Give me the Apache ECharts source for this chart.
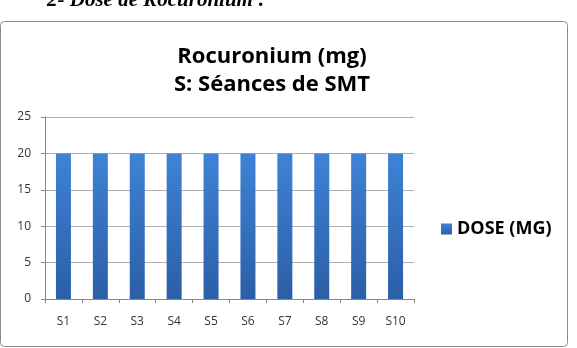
<!DOCTYPE html>
<html><head><meta charset="utf-8">
<script src="https://cdn.jsdelivr.net/npm/echarts@6/dist/echarts.min.js"></script>
<style>html,body{margin:0;padding:0;background:#fff}#c{width:577px;height:348px}</style>
</head><body><div id="c"></div>
<script>
const categories = ['S1','S2','S3','S4','S5','S6','S7','S8','S9','S10'];
const doseValues = [20,20,20,20,20,20,20,20,20,20];
const seriesName = 'DOSE (MG)';
const titleLines = ['Rocuronium (mg)', 'S: Séances de SMT'];
const heading = '2- Dose de Rocuronium :';

const chart = echarts.init(document.getElementById('c'), null, {renderer:'canvas'});
chart.setOption({
  animation:false,
  backgroundColor:'#fff',
  graphic:[
    {type:'text', left:47, top:-10, style:{text:heading, font:'italic bold 21px "Liberation Serif"', fill:'#000'}},
    {type:'rect', shape:{x:0.5, y:21.5, width:567, height:325, r:4}, style:{fill:'none', stroke:'#8c8c8c', lineWidth:1}}
  ],
  title:{
    text: titleLines.join('\n'),
    left: 267, top: 38, textAlign:'center',
    textStyle:{fontFamily:'Open Sans', fontWeight:'bold', fontSize:22, color:'#000', lineHeight:28}
  },
  legend:{
    data:[seriesName], left:436, top:215, itemWidth:11, itemHeight:11, itemGap:5,
    icon:'rect',
    textStyle:{fontFamily:'Open Sans', fontWeight:'bold', fontSize:18, color:'#000'}
  },
  grid:{left:45, right:163, top:117, bottom:49, containLabel:false},
  xAxis:{
    type:'category', data:categories,
    axisLine:{lineStyle:{color:'#888'}},
    axisTick:{show:true, alignWithLabel:false, length:4, lineStyle:{color:'#888'}},
    axisLabel:{fontFamily:'Open Sans', fontSize:12, color:'#333', margin:17}
  },
  yAxis:{
    type:'value', min:0, max:25, interval:5,
    axisLine:{show:true, lineStyle:{color:'#888'}},
    axisTick:{show:true, length:4, lineStyle:{color:'#888'}},
    splitLine:{lineStyle:{color:'#b0b0b0'}},
    axisLabel:{fontFamily:'Open Sans', fontSize:12, color:'#333', margin:14}
  },
  series:[{
    name:seriesName, type:'bar', data:doseValues, barWidth:15,
    itemStyle:{color:new echarts.graphic.LinearGradient(0,0,0,1,[{offset:0,color:'#3f82d6'},{offset:1,color:'#2b5fa6'}])}
  }]
});
</script></body></html>
